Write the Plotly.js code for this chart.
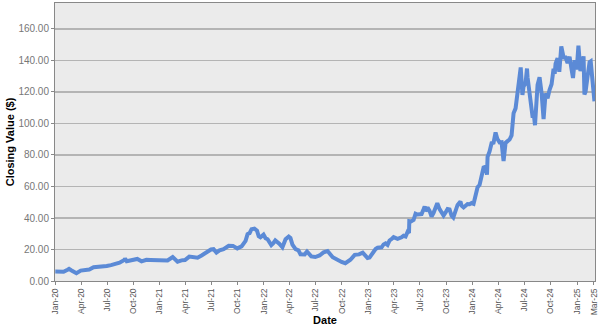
<!DOCTYPE html>
<html>
<head>
<meta charset="utf-8">
<script src="https://cdn.plot.ly/plotly-3.0.1.min.js"></script>
<style>html,body{margin:0;padding:0;background:#fff;}#chart{width:600px;height:327px;}</style>
</head>
<body>
<div id="chart"></div>
<script>
const dates = [
"2020-01-02","2020-01-15","2020-01-31","2020-02-14","2020-02-19","2020-02-28","2020-03-09","2020-03-16","2020-03-31","2020-04-15","2020-04-30","2020-05-15","2020-05-29","2020-06-15","2020-06-30","2020-07-15","2020-07-31","2020-08-14","2020-08-31","2020-09-02","2020-09-08","2020-09-30","2020-10-15","2020-10-30","2020-11-16","2020-11-30","2020-12-15","2020-12-31",
"2021-01-15","2021-01-29","2021-02-16","2021-03-05","2021-03-19","2021-03-31","2021-04-15","2021-04-30","2021-05-14","2021-05-28","2021-06-15","2021-06-30","2021-07-09","2021-07-19","2021-07-30","2021-08-13","2021-08-31","2021-09-15","2021-09-30","2021-10-15","2021-10-29","2021-11-05","2021-11-12","2021-11-19","2021-11-29","2021-12-08","2021-12-14","2021-12-20","2021-12-31",
"2022-01-07","2022-01-14","2022-01-27","2022-02-03","2022-02-10","2022-02-24","2022-03-07","2022-03-18","2022-03-29","2022-04-04","2022-04-11","2022-04-22","2022-05-02","2022-05-09","2022-05-24","2022-06-01","2022-06-16","2022-06-30","2022-07-15","2022-07-29","2022-08-12","2022-08-30","2022-09-15","2022-09-30","2022-10-13","2022-10-31","2022-11-15","2022-11-30","2022-12-13","2022-12-30",
"2023-01-06","2023-01-13","2023-01-20","2023-01-27","2023-02-03","2023-02-10","2023-02-17","2023-02-24","2023-03-03","2023-03-10","2023-03-17","2023-03-24","2023-03-31","2023-04-14","2023-04-21","2023-04-28","2023-05-05","2023-05-12","2023-05-19","2023-05-24","2023-05-25","2023-05-31","2023-06-09","2023-06-16","2023-06-23","2023-06-30","2023-07-07","2023-07-14","2023-07-18","2023-07-21","2023-07-28","2023-08-04","2023-08-11","2023-08-18","2023-08-24","2023-08-31","2023-09-08","2023-09-15","2023-09-22","2023-09-29","2023-10-06","2023-10-13","2023-10-20","2023-10-26","2023-11-03","2023-11-10","2023-11-20","2023-11-24","2023-12-01","2023-12-08","2023-12-15","2023-12-22","2023-12-29",
"2024-01-05","2024-01-12","2024-01-19","2024-01-26","2024-02-02","2024-02-09","2024-02-16","2024-02-21","2024-02-23","2024-03-01","2024-03-08","2024-03-15","2024-03-22","2024-03-28","2024-04-05","2024-04-12","2024-04-19","2024-04-26","2024-05-03","2024-05-10","2024-05-17","2024-05-24","2024-05-31","2024-06-07","2024-06-14","2024-06-18","2024-06-24","2024-06-28","2024-07-05","2024-07-10","2024-07-12","2024-07-19","2024-07-25","2024-07-30","2024-08-02","2024-08-07","2024-08-16","2024-08-23","2024-08-30","2024-09-06","2024-09-13","2024-09-20","2024-09-27","2024-10-04","2024-10-11","2024-10-15","2024-10-18","2024-10-25","2024-10-31","2024-11-07","2024-11-15","2024-11-22","2024-11-29","2024-12-06","2024-12-13","2024-12-18","2024-12-24","2024-12-31",
"2025-01-06","2025-01-13","2025-01-17","2025-01-24","2025-01-27","2025-01-31","2025-02-07","2025-02-14","2025-02-18","2025-02-21","2025-02-27","2025-03-03"
];
const closes = [
6.0,6.2,5.9,7.2,7.7,6.7,5.9,4.9,6.6,7.0,7.3,8.7,8.9,9.0,9.5,10.1,10.6,11.6,13.4,14.3,12.6,13.5,14.0,12.5,13.5,13.4,13.3,13.1,
12.9,13.0,15.2,12.3,13.1,13.3,15.5,15.0,14.8,16.2,18.5,20.0,20.2,18.1,19.5,20.2,22.4,22.3,20.7,22.0,25.5,29.8,30.4,32.9,33.3,32.0,28.4,27.7,29.4,
27.2,26.5,22.8,24.0,25.8,23.7,21.4,26.5,28.2,27.3,23.1,20.2,19.5,17.0,16.9,18.7,15.6,15.2,16.2,18.2,19.0,15.1,13.2,12.1,11.3,13.5,16.6,16.9,18.0,14.6,
14.9,16.9,17.8,20.3,21.1,21.3,21.4,23.2,23.9,22.9,25.7,26.7,27.8,26.7,27.1,27.7,28.7,28.3,31.2,30.5,38.0,37.8,38.8,42.7,42.2,42.3,42.5,45.5,47.4,44.3,46.7,44.6,40.9,43.3,47.1,49.3,45.6,43.9,41.6,43.5,45.7,45.4,41.4,40.3,45.0,48.3,50.4,47.8,46.7,47.5,48.9,48.8,49.5,
49.0,54.7,59.5,61.0,66.1,72.1,72.6,67.5,78.8,82.2,87.5,87.8,94.3,90.3,88.0,88.1,76.2,87.7,88.8,89.8,92.4,106.5,109.6,120.9,131.9,135.6,118.1,123.5,125.8,134.9,129.2,118.0,112.3,103.7,107.3,98.9,124.6,129.4,119.4,102.8,119.1,116.0,121.4,124.9,134.8,131.6,138.0,141.5,132.8,148.9,141.9,141.9,138.3,142.4,134.3,128.9,140.2,134.3,
149.4,133.2,137.7,142.6,118.4,120.1,129.8,138.9,139.4,134.4,120.2,114.1
];
const tickDates = ["2020-01-01","2020-04-01","2020-07-01","2020-10-01","2021-01-01","2021-04-01","2021-07-01","2021-10-01","2022-01-01","2022-04-01","2022-07-01","2022-10-01","2023-01-01","2023-04-01","2023-07-01","2023-10-01","2024-01-01","2024-04-01","2024-07-01","2024-10-01","2025-01-01","2025-03-01"];
const tickLabels = ["Jan-20","Apr-20","Jul-20","Oct-20","Jan-21","Apr-21","Jul-21","Oct-21","Jan-22","Apr-22","Jul-22","Oct-22","Jan-23","Apr-23","Jul-23","Oct-23","Jan-24","Apr-24","Jul-24","Oct-24","Jan-25","Mar-25"];
const yTicks = [0,20,40,60,80,100,120,140,160];
const yLabels = ["0.00","20.00","40.00","60.00","80.00","100.00","120.00","140.00","160.00"];

Plotly.newPlot("chart", [{
  x: dates, y: closes, type: "scatter", mode: "lines",
  line: {color: "#5b8ad6", width: 4}, hoverinfo: "none"
}], {
  width: 600, height: 327,
  margin: {l: 55, r: 5, t: 3, b: 46, pad: 0},
  paper_bgcolor: "#ffffff", plot_bgcolor: "#ebebeb",
  showlegend: false,
  font: {family: "Arial, Liberation Sans, sans-serif", size: 10, color: "#666666"},
  xaxis: {
    type: "date", range: ["2020-01-01", "2025-03-05"],
    tickvals: tickDates, ticktext: tickLabels, tickangle: -90,
    showgrid: false, zeroline: false,
    showline: true, linecolor: "#888888", linewidth: 1, mirror: true,
    ticks: "outside", ticklen: 3, tickcolor: "#888888",
    tickfont: {size: 8.5, color: "#555555"},
    title: {text: "<b>Date</b>", font: {size: 11, color: "#000000"}, standoff: 0}
  },
  yaxis: {
    range: [0, 176.5], tickvals: yTicks, ticktext: yLabels,
    showgrid: true, gridcolor: "#b4b4b4", gridwidth: 1.2,
    zeroline: false, showline: true, linecolor: "#888888", linewidth: 1, mirror: true,
    ticks: "outside", ticklen: 3, tickcolor: "#888888",
    tickfont: {size: 10, color: "#777777"},
    title: {text: "<b>Closing Value ($)</b>", font: {size: 11, color: "#000000"}, standoff: 1}
  }
}, {displayModeBar: false, staticPlot: true});
</script>
</body>
</html>
